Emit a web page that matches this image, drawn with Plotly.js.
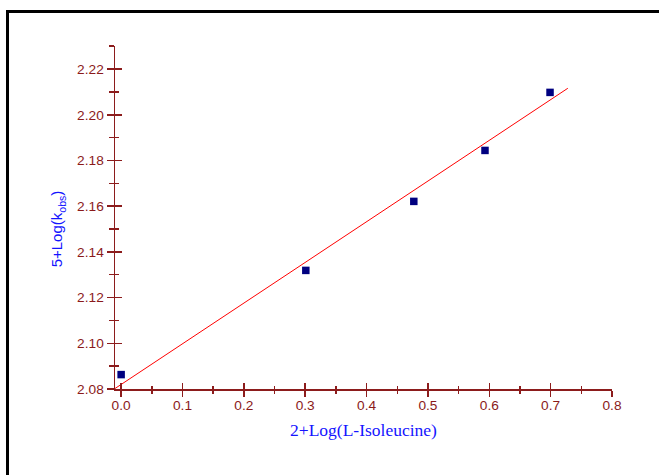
<!DOCTYPE html>
<html>
<head>
<meta charset="utf-8">
<script src="https://cdn.plot.ly/plotly-3.0.1.min.js"></script>
<style>
  html, body { margin: 0; padding: 0; background: #fff; width: 659px; height: 475px; overflow: hidden; }
  #frame { position: absolute; left: 6px; top: 10px; width: 720px; height: 520px; border: 3px solid #000; box-sizing: border-box; }
  #plot { position: absolute; left: 0; top: 0; width: 659px; height: 475px; }
</style>
</head>
<body>
<div id="frame"></div>
<div id="plot"></div>
<script>
// Data
const logConc = [0.0, 0.301, 0.477, 0.593, 0.699];          // 2+Log(L-Isoleucine)
const logKobs = [2.0863, 2.1319, 2.1621, 2.1844, 2.2098];   // 5+Log(kobs)
const fitX = [-0.01, 0.728];                                // least-squares line ends
const fitY = [2.0802, 2.2116];

const xTitle = '2+Log(L-Isoleucine)';
const yTitle = '5+Log(k<sub>obs</sub>)';

const axisColor = '#8c1c1c';
const labelColor = '#8b1a1a';
const titleBlue = '#1414ff';
const sansFont = '"Liberation Sans", Arial, sans-serif';
const serifFont = '"Liberation Serif", "Times New Roman", serif';

const traces = [
  {
    x: fitX, y: fitY, type: 'scatter', mode: 'lines', xaxis: 'x2', yaxis: 'y2',
    line: { color: '#ff0000', width: 1 }, hoverinfo: 'skip', showlegend: false
  },
  {
    x: logConc, y: logKobs, type: 'scatter', mode: 'markers',
    marker: { symbol: 'square', size: 7.5, color: '#000080' }, showlegend: false
  }
];

const xRange = [-0.01, 0.8];
const yRange = [2.08, 2.2301];

const xBase = {
  range: xRange, tick0: 0, dtick: 0.1, tickformat: '.1f',
  showgrid: false, zeroline: false, tickcolor: axisColor, tickwidth: 1.5
};
const yBase = {
  range: yRange, tick0: 2.08, dtick: 0.02, tickformat: '.2f',
  showgrid: false, zeroline: false, tickcolor: axisColor, tickwidth: 1.5
};

const layout = {
  width: 659, height: 475,
  margin: { l: 115, r: 47, t: 46, b: 86 },
  paper_bgcolor: 'rgba(0,0,0,0)', plot_bgcolor: 'rgba(0,0,0,0)',
  showlegend: false,
  xaxis: Object.assign({}, xBase, {
    showline: true, linecolor: axisColor, linewidth: 1.5,
    ticks: 'outside', ticklen: 6.5, ticklabelstandoff: -3,
    minor: { dtick: 0.05, ticks: 'outside', ticklen: 3.5, tickcolor: axisColor, tickwidth: 1.5, showgrid: false },
    tickfont: { family: sansFont, size: 13.7, color: labelColor },
    title: { text: xTitle, standoff: 11, font: { family: serifFont, size: 17.5, color: titleBlue } }
  }),
  yaxis: Object.assign({}, yBase, {
    showline: true, linecolor: axisColor, linewidth: 1.5,
    ticks: 'outside', ticklen: 7,
    minor: { dtick: 0.01, ticks: 'outside', ticklen: 4.3, tickcolor: axisColor, tickwidth: 1.5, showgrid: false },
    tickfont: { family: sansFont, size: 13.7, color: labelColor }
  }),
  xaxis2: Object.assign({}, xBase, {
    overlaying: 'x', anchor: 'y2', side: 'bottom', showline: false, showticklabels: false,
    ticks: 'inside', ticklen: 6.5,
    minor: { dtick: 0.05, ticks: 'inside', ticklen: 3.5, tickcolor: axisColor, tickwidth: 1.5, showgrid: false }
  }),
  yaxis2: Object.assign({}, yBase, {
    overlaying: 'y', anchor: 'x2', side: 'left', showline: false, showticklabels: false,
    ticks: 'inside', ticklen: 7,
    minor: { dtick: 0.01, ticks: 'inside', ticklen: 4.3, tickcolor: axisColor, tickwidth: 1.5, showgrid: false }
  }),
  annotations: [{
    text: yTitle, textangle: -90, showarrow: false,
    xref: 'paper', yref: 'paper', x: -0.115, y: 0.468, xanchor: 'center', yanchor: 'middle',
    font: { family: sansFont, size: 15, color: titleBlue }
  }]
};

Plotly.newPlot('plot', traces, layout, { displayModeBar: false, staticPlot: true });
</script>
</body>
</html>
